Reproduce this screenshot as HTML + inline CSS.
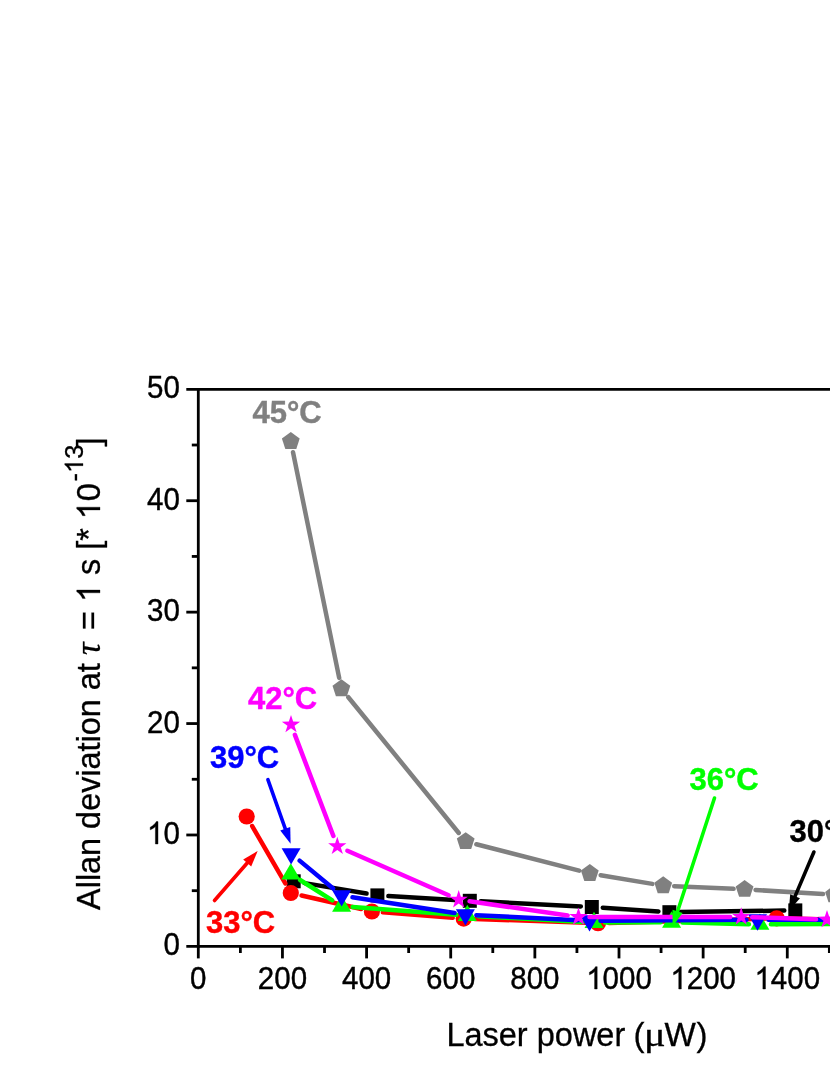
<!DOCTYPE html>
<html><head><meta charset="utf-8"><title>Allan deviation vs laser power</title>
<style>html,body{margin:0;padding:0;background:#fff;width:830px;height:1075px;overflow:hidden}
body{position:relative;font-family:"Liberation Sans",sans-serif}</style></head>
<body>
<svg width="830" height="1075" viewBox="0 0 830 1075" style="display:block;position:absolute;left:0;top:0;will-change:transform">
<rect width="830" height="1075" fill="#fff"/>
<g id="data">
<line x1="304.55" y1="883.13" x2="366.55" y2="893.57" stroke="#000000" stroke-width="4.5" stroke-linecap="round"/>
<line x1="388.38" y1="896.04" x2="458.82" y2="900.16" stroke="#000000" stroke-width="4.5" stroke-linecap="round"/>
<line x1="480.79" y1="901.36" x2="580.81" y2="906.44" stroke="#000000" stroke-width="4.5" stroke-linecap="round"/>
<line x1="602.78" y1="907.74" x2="658.42" y2="911.46" stroke="#000000" stroke-width="4.5" stroke-linecap="round"/>
<line x1="680.40" y1="912.04" x2="784.30" y2="910.56" stroke="#000000" stroke-width="4.5" stroke-linecap="round"/>
<rect x="286.70" y="874.30" width="14" height="14" fill="#000000"/>
<rect x="370.40" y="888.40" width="14" height="14" fill="#000000"/>
<rect x="462.80" y="893.80" width="14" height="14" fill="#000000"/>
<rect x="584.80" y="900.00" width="14" height="14" fill="#000000"/>
<rect x="662.40" y="905.20" width="14" height="14" fill="#000000"/>
<rect x="788.30" y="903.40" width="14" height="14" fill="#000000"/>
<line x1="252.19" y1="826.03" x2="285.31" y2="883.47" stroke="#ff0000" stroke-width="4.5" stroke-linecap="round"/>
<line x1="301.52" y1="895.45" x2="361.18" y2="909.05" stroke="#ff0000" stroke-width="4.5" stroke-linecap="round"/>
<line x1="382.87" y1="912.35" x2="452.73" y2="917.75" stroke="#ff0000" stroke-width="4.5" stroke-linecap="round"/>
<line x1="474.69" y1="918.98" x2="587.01" y2="922.82" stroke="#ff0000" stroke-width="4.5" stroke-linecap="round"/>
<line x1="609.00" y1="922.90" x2="765.70" y2="918.60" stroke="#ff0000" stroke-width="4.5" stroke-linecap="round"/>
<line x1="787.70" y1="918.54" x2="889.00" y2="920.76" stroke="#ff0000" stroke-width="4.5" stroke-linecap="round"/>
<circle cx="246.70" cy="816.50" r="8.1" fill="#ff0000"/>
<circle cx="290.80" cy="893.00" r="8.1" fill="#ff0000"/>
<circle cx="371.90" cy="911.50" r="8.1" fill="#ff0000"/>
<circle cx="463.70" cy="918.60" r="8.1" fill="#ff0000"/>
<circle cx="598.00" cy="923.20" r="8.1" fill="#ff0000"/>
<circle cx="776.70" cy="918.30" r="8.1" fill="#ff0000"/>
<circle cx="900.00" cy="921.00" r="8.1" fill="#ff0000"/>
<line x1="300.10" y1="879.98" x2="332.30" y2="900.32" stroke="#00ff00" stroke-width="4.5" stroke-linecap="round"/>
<line x1="352.57" y1="907.02" x2="456.33" y2="914.78" stroke="#00ff00" stroke-width="4.5" stroke-linecap="round"/>
<line x1="478.28" y1="916.21" x2="583.02" y2="921.99" stroke="#00ff00" stroke-width="4.5" stroke-linecap="round"/>
<line x1="605.00" y1="922.54" x2="660.60" y2="922.26" stroke="#00ff00" stroke-width="4.5" stroke-linecap="round"/>
<line x1="682.60" y1="922.47" x2="748.90" y2="924.13" stroke="#00ff00" stroke-width="4.5" stroke-linecap="round"/>
<line x1="770.90" y1="924.33" x2="889.00" y2="923.57" stroke="#00ff00" stroke-width="4.5" stroke-linecap="round"/>
<polygon points="290.80,863.23 281.30,879.53 300.30,879.53" fill="#00ff00"/>
<polygon points="341.60,895.33 332.10,911.63 351.10,911.63" fill="#00ff00"/>
<polygon points="467.30,904.73 457.80,921.03 476.80,921.03" fill="#00ff00"/>
<polygon points="594.00,911.73 584.50,928.03 603.50,928.03" fill="#00ff00"/>
<polygon points="671.60,911.33 662.10,927.63 681.10,927.63" fill="#00ff00"/>
<polygon points="759.90,913.53 750.40,929.83 769.40,929.83" fill="#00ff00"/>
<polygon points="900.00,912.63 890.50,928.93 909.50,928.93" fill="#00ff00"/>
<line x1="299.56" y1="860.63" x2="333.14" y2="888.57" stroke="#0000ff" stroke-width="4.5" stroke-linecap="round"/>
<line x1="352.47" y1="897.27" x2="454.53" y2="912.93" stroke="#0000ff" stroke-width="4.5" stroke-linecap="round"/>
<line x1="476.39" y1="915.14" x2="578.51" y2="920.16" stroke="#0000ff" stroke-width="4.5" stroke-linecap="round"/>
<line x1="600.50" y1="920.64" x2="746.50" y2="919.86" stroke="#0000ff" stroke-width="4.5" stroke-linecap="round"/>
<line x1="768.50" y1="919.78" x2="889.00" y2="919.52" stroke="#0000ff" stroke-width="4.5" stroke-linecap="round"/>
<polygon points="291.10,864.47 281.60,848.17 300.60,848.17" fill="#0000ff"/>
<polygon points="341.60,906.47 332.10,890.17 351.10,890.17" fill="#0000ff"/>
<polygon points="465.40,925.47 455.90,909.17 474.90,909.17" fill="#0000ff"/>
<polygon points="589.50,931.57 580.00,915.27 599.00,915.27" fill="#0000ff"/>
<polygon points="757.50,930.67 748.00,914.37 767.00,914.37" fill="#0000ff"/>
<polygon points="900.00,930.37 890.50,914.07 909.50,914.07" fill="#0000ff"/>
<line x1="294.91" y1="734.88" x2="333.39" y2="836.02" stroke="#ff00ff" stroke-width="4.5" stroke-linecap="round"/>
<line x1="347.37" y1="850.73" x2="448.63" y2="895.27" stroke="#ff00ff" stroke-width="4.5" stroke-linecap="round"/>
<line x1="469.59" y1="901.27" x2="567.61" y2="915.43" stroke="#ff00ff" stroke-width="4.5" stroke-linecap="round"/>
<line x1="589.50" y1="916.99" x2="730.20" y2="916.91" stroke="#ff00ff" stroke-width="4.5" stroke-linecap="round"/>
<line x1="752.19" y1="917.25" x2="816.01" y2="919.25" stroke="#ff00ff" stroke-width="4.5" stroke-linecap="round"/>
<line x1="838.00" y1="919.74" x2="889.00" y2="920.36" stroke="#ff00ff" stroke-width="4.5" stroke-linecap="round"/>
<polygon points="291.00,715.00 293.17,721.61 300.13,721.63 294.52,725.74 296.64,732.37 291.00,728.30 285.36,732.37 287.48,725.74 281.87,721.63 288.83,721.61" fill="#ff00ff"/>
<polygon points="337.30,836.70 339.47,843.31 346.43,843.33 340.82,847.44 342.94,854.07 337.30,850.00 331.66,854.07 333.78,847.44 328.17,843.33 335.13,843.31" fill="#ff00ff"/>
<polygon points="458.70,890.10 460.87,896.71 467.83,896.73 462.22,900.84 464.34,907.47 458.70,903.40 453.06,907.47 455.18,900.84 449.57,896.73 456.53,896.71" fill="#ff00ff"/>
<polygon points="578.50,907.40 580.67,914.01 587.63,914.03 582.02,918.14 584.14,924.77 578.50,920.70 572.86,924.77 574.98,918.14 569.37,914.03 576.33,914.01" fill="#ff00ff"/>
<polygon points="741.20,907.30 743.37,913.91 750.33,913.93 744.72,918.04 746.84,924.67 741.20,920.60 735.56,924.67 737.68,918.04 732.07,913.93 739.03,913.91" fill="#ff00ff"/>
<polygon points="827.00,910.00 829.17,916.61 836.13,916.63 830.52,920.74 832.64,927.37 827.00,923.30 821.36,927.37 823.48,920.74 817.87,916.63 824.83,916.61" fill="#ff00ff"/>
<polygon points="900.00,910.90 902.17,917.51 909.13,917.53 903.52,921.64 905.64,928.27 900.00,924.20 894.36,928.27 896.48,921.64 890.87,917.53 897.83,917.51" fill="#ff00ff"/>
<line x1="293.01" y1="452.18" x2="339.19" y2="677.92" stroke="#808080" stroke-width="4.5" stroke-linecap="round"/>
<line x1="348.34" y1="697.23" x2="458.76" y2="832.97" stroke="#808080" stroke-width="4.5" stroke-linecap="round"/>
<line x1="476.35" y1="844.24" x2="579.15" y2="870.66" stroke="#808080" stroke-width="4.5" stroke-linecap="round"/>
<line x1="600.65" y1="875.22" x2="652.35" y2="883.88" stroke="#808080" stroke-width="4.5" stroke-linecap="round"/>
<line x1="674.19" y1="886.19" x2="733.61" y2="888.81" stroke="#808080" stroke-width="4.5" stroke-linecap="round"/>
<line x1="755.58" y1="889.98" x2="823.02" y2="894.12" stroke="#808080" stroke-width="4.5" stroke-linecap="round"/>
<polygon points="290.80,432.05 299.69,438.51 296.30,448.96 285.30,448.96 281.91,438.51" fill="#808080"/>
<polygon points="341.40,679.35 350.29,685.81 346.90,696.26 335.90,696.26 332.51,685.81" fill="#808080"/>
<polygon points="465.70,832.15 474.59,838.61 471.20,849.06 460.20,849.06 456.81,838.61" fill="#808080"/>
<polygon points="589.80,864.05 598.69,870.51 595.30,880.96 584.30,880.96 580.91,870.51" fill="#808080"/>
<polygon points="663.20,876.35 672.09,882.81 668.70,893.26 657.70,893.26 654.31,882.81" fill="#808080"/>
<polygon points="744.60,879.95 753.49,886.41 750.10,896.86 739.10,896.86 735.71,886.41" fill="#808080"/>
<polygon points="834.00,885.45 842.89,891.91 839.50,902.36 828.50,902.36 825.11,891.91" fill="#808080"/>
</g>
<g stroke="#000" stroke-width="2.8" fill="none" stroke-linecap="butt">
<line x1="198.30" y1="387.90" x2="198.30" y2="947.80"/>
<line x1="186.30" y1="389.30" x2="835" y2="389.30"/>
<line x1="186.30" y1="946.40" x2="835" y2="946.40"/>
<line x1="191.80" y1="890.69" x2="198.30" y2="890.69"/>
<line x1="186.30" y1="834.98" x2="198.30" y2="834.98"/>
<line x1="191.80" y1="779.27" x2="198.30" y2="779.27"/>
<line x1="186.30" y1="723.56" x2="198.30" y2="723.56"/>
<line x1="191.80" y1="667.85" x2="198.30" y2="667.85"/>
<line x1="186.30" y1="612.14" x2="198.30" y2="612.14"/>
<line x1="191.80" y1="556.43" x2="198.30" y2="556.43"/>
<line x1="186.30" y1="500.72" x2="198.30" y2="500.72"/>
<line x1="191.80" y1="445.01" x2="198.30" y2="445.01"/>
<line x1="198.30" y1="946.40" x2="198.30" y2="958.40"/>
<line x1="240.37" y1="946.40" x2="240.37" y2="953.00"/>
<line x1="282.44" y1="946.40" x2="282.44" y2="958.40"/>
<line x1="324.51" y1="946.40" x2="324.51" y2="953.00"/>
<line x1="366.58" y1="946.40" x2="366.58" y2="958.40"/>
<line x1="408.65" y1="946.40" x2="408.65" y2="953.00"/>
<line x1="450.72" y1="946.40" x2="450.72" y2="958.40"/>
<line x1="492.79" y1="946.40" x2="492.79" y2="953.00"/>
<line x1="534.86" y1="946.40" x2="534.86" y2="958.40"/>
<line x1="576.93" y1="946.40" x2="576.93" y2="953.00"/>
<line x1="619.00" y1="946.40" x2="619.00" y2="958.40"/>
<line x1="661.07" y1="946.40" x2="661.07" y2="953.00"/>
<line x1="703.14" y1="946.40" x2="703.14" y2="958.40"/>
<line x1="745.21" y1="946.40" x2="745.21" y2="953.00"/>
<line x1="787.28" y1="946.40" x2="787.28" y2="958.40"/>
<line x1="829.35" y1="946.40" x2="829.35" y2="953.00"/>
</g>
<g font-family="'Liberation Sans', sans-serif" font-size="29.5" fill="#000" stroke="#000" stroke-width="0.4">
<g transform="translate(163.40,955.40) scale(1,1.055)"><text x="0.00" y="0" xml:space="preserve">0</text></g>
<g transform="translate(147.00,843.98) scale(1,1.055)"><path transform="translate(0.00,0) scale(0.01440,-0.01440)" d="M763 0H583V1147Q518 1085 412.5 1023T223 930V1104Q374 1175 487 1276T647 1472H763Z" stroke-width="27.8"/><text x="16.40" y="0" xml:space="preserve">0</text></g>
<g transform="translate(147.00,732.56) scale(1,1.055)"><text x="0.00" y="0" xml:space="preserve">20</text></g>
<g transform="translate(147.00,621.14) scale(1,1.055)"><text x="0.00" y="0" xml:space="preserve">30</text></g>
<g transform="translate(147.00,509.72) scale(1,1.055)"><text x="0.00" y="0" xml:space="preserve">40</text></g>
<g transform="translate(147.00,398.30) scale(1,1.055)"><text x="0.00" y="0" xml:space="preserve">50</text></g>
<g transform="translate(190.10,989.0) scale(1,1.055)"><text x="0.00" y="0" xml:space="preserve">0</text></g>
<g transform="translate(257.84,989.0) scale(1,1.055)"><text x="0.00" y="0" xml:space="preserve">200</text></g>
<g transform="translate(341.98,989.0) scale(1,1.055)"><text x="0.00" y="0" xml:space="preserve">400</text></g>
<g transform="translate(426.12,989.0) scale(1,1.055)"><text x="0.00" y="0" xml:space="preserve">600</text></g>
<g transform="translate(510.26,989.0) scale(1,1.055)"><text x="0.00" y="0" xml:space="preserve">800</text></g>
<g transform="translate(586.20,989.0) scale(1,1.055)"><path transform="translate(0.00,0) scale(0.01440,-0.01440)" d="M763 0H583V1147Q518 1085 412.5 1023T223 930V1104Q374 1175 487 1276T647 1472H763Z" stroke-width="27.8"/><text x="16.40" y="0" xml:space="preserve">000</text></g>
<g transform="translate(670.34,989.0) scale(1,1.055)"><path transform="translate(0.00,0) scale(0.01440,-0.01440)" d="M763 0H583V1147Q518 1085 412.5 1023T223 930V1104Q374 1175 487 1276T647 1472H763Z" stroke-width="27.8"/><text x="16.40" y="0" xml:space="preserve">200</text></g>
<g transform="translate(754.48,989.0) scale(1,1.055)"><path transform="translate(0.00,0) scale(0.01440,-0.01440)" d="M763 0H583V1147Q518 1085 412.5 1023T223 930V1104Q374 1175 487 1276T647 1472H763Z" stroke-width="27.8"/><text x="16.40" y="0" xml:space="preserve">400</text></g>
</g>
<text transform="translate(446.4,1045.6) scale(1.0,1)" font-family="'Liberation Sans', sans-serif" font-size="32.5" fill="#000" stroke="#000" stroke-width="0.3">Laser power</text>
<text transform="translate(633.4,1045.6) scale(1.0,1)" font-family="'Liberation Sans', sans-serif" font-size="33" fill="#000" stroke="#000" stroke-width="0.3">(</text>
<text transform="translate(643.9,1045.6) scale(1.22,1)" font-family="'Liberation Serif', serif" font-size="33" fill="#000" stroke="#000" stroke-width="0.3">μ</text>
<text transform="translate(664.6,1045.6) scale(1.0,1)" font-family="'Liberation Sans', sans-serif" font-size="33.2" fill="#000" stroke="#000" stroke-width="0.3">W</text>
<text transform="translate(696.6,1045.6) scale(1.0,1)" font-family="'Liberation Sans', sans-serif" font-size="33" fill="#000" stroke="#000" stroke-width="0.3">)</text>
<text transform="translate(100.0,909.9) rotate(-90)" font-family="'Liberation Sans', sans-serif" font-size="32.4" fill="#000" stroke="#000" stroke-width="0.3" >Allan deviation at</text>
<text transform="translate(100.0,655.0) rotate(-90)" font-family="'Liberation Serif', serif" font-size="35" fill="#000" stroke="#000" stroke-width="0.3" font-style="italic">τ</text>
<g transform="translate(100.0,630.0) rotate(-90)" font-family="'Liberation Sans', sans-serif" font-size="32.4" fill="#000" stroke="#000" stroke-width="0.3" ><text x="0.00" y="0" xml:space="preserve">= </text><path transform="translate(27.93,0) scale(0.01582,-0.01582)" d="M763 0H583V1147Q518 1085 412.5 1023T223 930V1104Q374 1175 487 1276T647 1472H763Z" stroke-width="19.0"/><text x="45.94" y="0" xml:space="preserve"> s [* </text><path transform="translate(110.78,0) scale(0.01582,-0.01582)" d="M763 0H583V1147Q518 1085 412.5 1023T223 930V1104Q374 1175 487 1276T647 1472H763Z" stroke-width="19.0"/><text x="128.79" y="0" xml:space="preserve">0</text></g>
<g transform="translate(83.0,481.4) rotate(-90)" font-family="'Liberation Sans', sans-serif" font-size="25.4" fill="#000" stroke="#000" stroke-width="0.3" ><text x="0.00" y="0" xml:space="preserve">-</text><path transform="translate(8.46,0) scale(0.01240,-0.01240)" d="M763 0H583V1147Q518 1085 412.5 1023T223 930V1104Q374 1175 487 1276T647 1472H763Z" stroke-width="24.2"/><text x="22.58" y="0" xml:space="preserve">3</text></g>
<text transform="translate(100.0,446.4) rotate(-90)" font-family="'Liberation Sans', sans-serif" font-size="32.4" fill="#000" stroke="#000" stroke-width="0.3" >]</text>
<g font-family="'Liberation Sans', sans-serif" font-size="31" font-weight="bold">
<text transform="translate(252.5,423.0) scale(1,1.035)" fill="#808080" stroke="#808080" stroke-width="0.4">45°C</text>
<text transform="translate(248,708.7) scale(1,1.035)" fill="#ff00ff" stroke="#ff00ff" stroke-width="0.4">42°C</text>
<text transform="translate(210,767.5) scale(1,1.035)" fill="#0000ff" stroke="#0000ff" stroke-width="0.4">39°C</text>
<text transform="translate(206,932.5) scale(1,1.035)" fill="#ff0000" stroke="#ff0000" stroke-width="0.4">33°C</text>
<text transform="translate(689.5,790.3000000000001) scale(1,1.035)" fill="#00ff00" stroke="#00ff00" stroke-width="0.4">36°C</text>
<text transform="translate(789.5,842.1) scale(1,1.035)" fill="#000000" stroke="#000000" stroke-width="0.4">30°C</text>
</g>
<line x1="267.90" y1="779.60" x2="285.93" y2="830.60" stroke="#0000ff" stroke-width="3.6" stroke-linecap="round"/><polygon points="290.60,843.80 280.27,830.48 290.26,826.95" fill="#0000ff"/>
<line x1="214.50" y1="900.50" x2="248.51" y2="861.46" stroke="#ff0000" stroke-width="3.6" stroke-linecap="round"/><polygon points="257.70,850.90 251.19,866.45 243.19,859.48" fill="#ff0000"/>
<line x1="714.50" y1="798.00" x2="676.94" y2="913.19" stroke="#00ff00" stroke-width="3.6" stroke-linecap="round"/><polygon points="672.60,926.50 672.52,909.65 682.60,912.93" fill="#00ff00"/>
<line x1="813.90" y1="852.00" x2="794.28" y2="898.12" stroke="#000000" stroke-width="3.6" stroke-linecap="round"/><polygon points="788.80,911.00 790.19,894.20 799.94,898.35" fill="#000000"/>
</svg>
</body></html>
